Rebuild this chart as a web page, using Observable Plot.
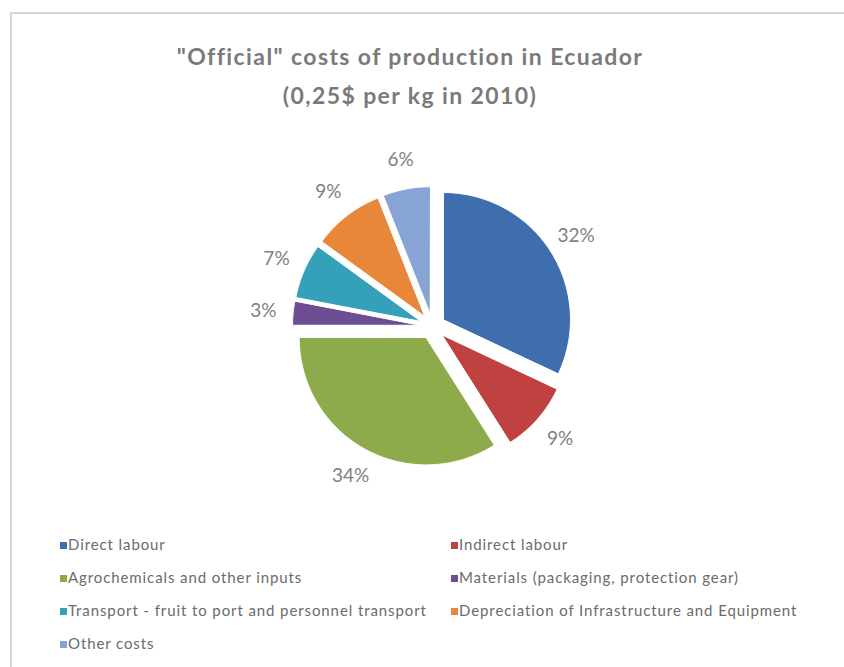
<!DOCTYPE html>
<html>
<head>
<meta charset="utf-8">
<script src="https://cdn.jsdelivr.net/npm/d3@7"></script>
<script src="https://cdn.jsdelivr.net/npm/@observablehq/plot@0.6"></script>
<style>
  html, body { margin: 0; padding: 0; background: #fff; }
  #wrap { position: relative; width: 844px; height: 667px; overflow: hidden; font-family: Lato, "Open Sans", sans-serif; }
  #frame { position: absolute; left: 10px; top: 12px; right: -10px; bottom: -10px; border-left: 2px solid #d6d6d6; border-top: 2px solid #d6d6d6; }
  .title { position: absolute; left: 0; width: 820px; text-align: center; font-weight: bold; font-size: 23px; letter-spacing: 1.4px; color: #7a7a7a; white-space: nowrap; }
  #chart { position: absolute; left: 0; top: 120px; }
  .leg { position: absolute; font-size: 15px; letter-spacing: 0.9px; color: #6b6b6b; white-space: nowrap; line-height: 16px; }
  .leg span.sw { display: inline-block; width: 7px; height: 7px; margin-right: 1px; vertical-align: 1px; }
</style>
</head>
<body>
<div id="wrap">
  <div id="frame"></div>
  <div class="title" style="top:42px">"Official" costs of production in Ecuador</div>
  <div class="title" style="top:81px">(0,25$ per kg in 2010)</div>
  <div id="chart"></div>
  <div id="legend"></div>
</div>
<script>
// ---- data ----
const categories = [
  "Direct labour",
  "Indirect labour",
  "Agrochemicals and other inputs",
  "Materials (packaging, protection gear)",
  "Transport - fruit to port and personnel transport",
  "Depreciation of Infrastructure and Equipment",
  "Other costs"
];
const shares = [32, 9, 34, 3, 7, 9, 6];
const percentLabels = ["32%", "9%", "34%", "3%", "7%", "9%", "6%"];
const colors = ["#3f6eae", "#bf4240", "#8eab4b", "#6e4e93", "#35a0b9", "#e8873a", "#88a4d4"];

// ---- geometry settings ----
const R = 127, EXPLODE = 13, LABEL_R = 170;
const W = 844, H = 380, CX = 432, CY = 206;

const arcs = d3.pie().sort(null).value(d => d)(shares);
const polyRows = [];
const labelRows = [];
arcs.forEach((a, i) => {
  const mid = (a.startAngle + a.endAngle) / 2;
  const ox = EXPLODE * Math.sin(mid), oy = EXPLODE * Math.cos(mid);
  const name = categories[i];
  polyRows.push({name, x: ox, y: oy});
  const n = Math.max(4, Math.ceil((a.endAngle - a.startAngle) / 0.02));
  for (let k = 0; k <= n; k++) {
    const t = a.startAngle + (a.endAngle - a.startAngle) * k / n;
    polyRows.push({name, x: ox + R * Math.sin(t), y: oy + R * Math.cos(t)});
  }
  labelRows.push({text: percentLabels[i], x: LABEL_R * Math.sin(mid), y: LABEL_R * Math.cos(mid)});
});

const plot = Plot.plot({
  width: W, height: H,
  margin: 0,
  x: {domain: [-CX, W - CX], axis: null},
  y: {domain: [-(H - CY), CY], axis: null},
  color: {domain: categories, range: colors},
  marks: [
    Plot.line(polyRows, {x: "x", y: "y", z: "name", fill: "name", stroke: "white", strokeWidth: 1, curve: "linear-closed"}),
    Plot.text(labelRows, {x: "x", y: "y", text: "text", fill: "#808080", fontSize: 19, fontFamily: "Lato, sans-serif"})
  ]
});
document.getElementById("chart").appendChild(plot);

// ---- legend ----
const legendPos = [[60, 536], [451, 536], [60, 569], [451, 569], [60, 602], [451, 602], [60, 635]];
const legend = document.getElementById("legend");
categories.forEach((c, i) => {
  const d = document.createElement("div");
  d.className = "leg";
  d.style.left = legendPos[i][0] + "px";
  d.style.top = legendPos[i][1] + "px";
  d.innerHTML = `<span class="sw" style="background:${colors[i]}"></span>`;
  d.appendChild(document.createTextNode(c));
  legend.appendChild(d);
});
</script>
</body>
</html>
